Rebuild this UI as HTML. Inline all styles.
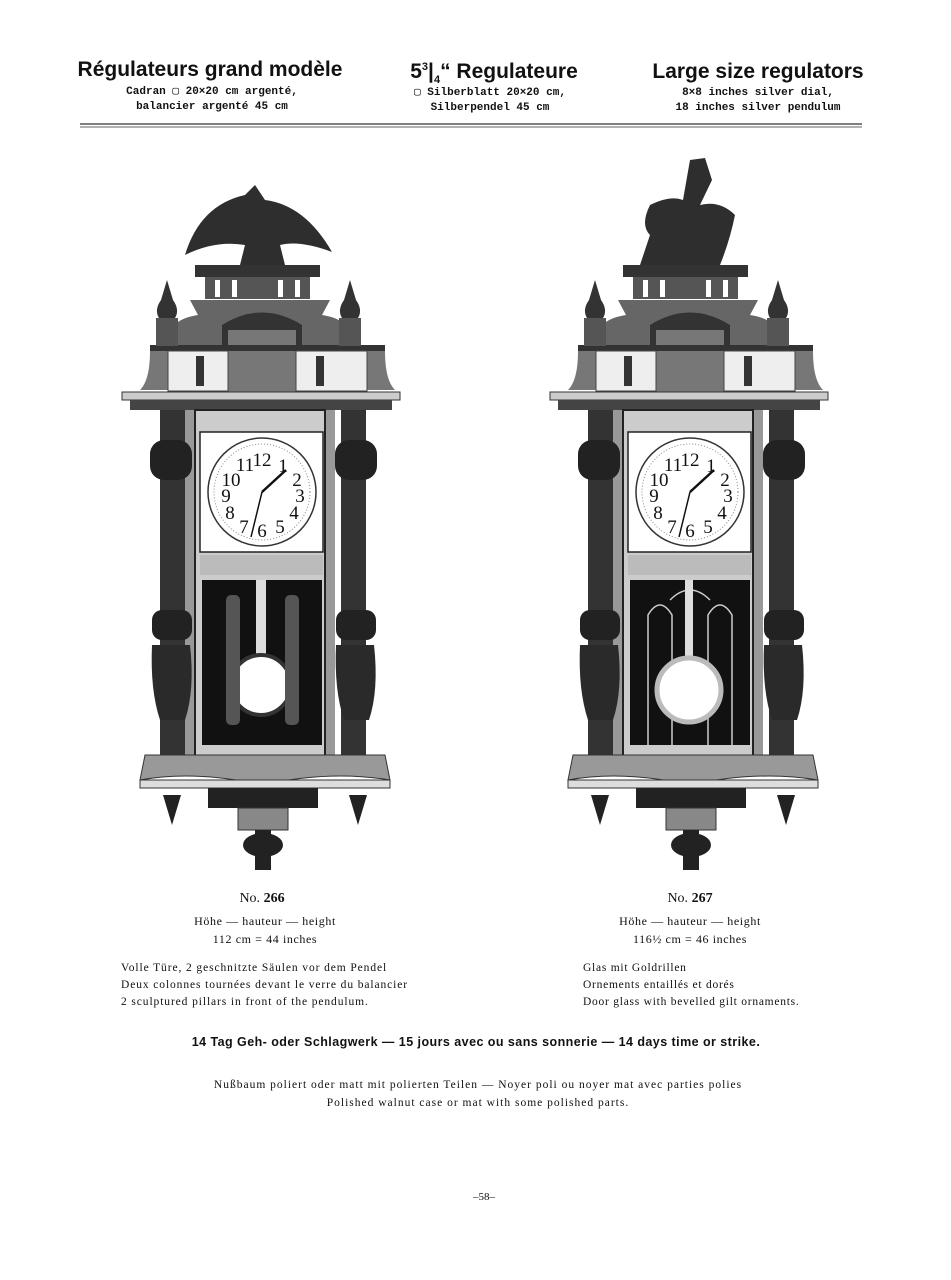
<!DOCTYPE html>
<html><head><meta charset="utf-8"><style>
body{margin:0;background:#fff;}
#p{position:relative;width:951px;height:1280px;overflow:hidden;background:#fff;color:#111;}
.t{position:absolute;white-space:nowrap;transform:translateX(-50%);text-align:center;}
.h{font-family:"Liberation Sans",sans-serif;font-weight:bold;font-size:21px;}
.s{font-family:"Liberation Mono",monospace;font-weight:bold;font-size:11px;line-height:15px;}
.r{font-family:"Liberation Serif",serif;font-size:12px;line-height:18px;}
.l{position:absolute;font-family:"Liberation Serif",serif;font-size:11.5px;line-height:17px;white-space:nowrap;letter-spacing:0.9px;}
svg{position:absolute;left:0;top:0;}
</style></head><body><div id="p">
<div class="t h" style="left:210px;top:58px">Régulateurs grand modèle</div>
<div class="t s" style="left:212px;top:85px">Cadran ▢ 20×20 cm argenté,<br>balancier argenté 45 cm</div>
<div class="t h" style="left:494px;top:60px">5<sup style="font-size:11px">3</sup>|<sub style="font-size:11px">4</sub>“ Regulateure</div>
<div class="t s" style="left:490px;top:86px">▢ Silberblatt 20×20 cm,<br>Silberpendel 45 cm</div>
<div class="t h" style="left:758px;top:60px">Large size regulators</div>
<div class="t s" style="left:758px;top:86px">8×8 inches silver dial,<br>18 inches silver pendulum</div>

<svg width="951" height="1280">
<line x1="80" y1="124" x2="862" y2="124" stroke="#333" stroke-width="1.2"/>
<line x1="80" y1="127" x2="862" y2="127" stroke="#666" stroke-width="1"/>
<defs>
<g id="clk">
<rect x="195" y="265" width="125" height="12" fill="#333"/>
<rect x="205" y="277" width="105" height="22" fill="#555"/>
<g fill="#fff"><rect x="215" y="280" width="5" height="17"/><rect x="232" y="280" width="5" height="17"/><rect x="278" y="280" width="5" height="17"/><rect x="295" y="280" width="5" height="17"/></g>
<path d="M190 300 H330 L322 315 Q355 320 350 345 H170 Q165 320 198 315Z" fill="#666"/>
<path d="M222 345 V325 Q262 300 302 325 V345Z" fill="#333"/>
<rect x="228" y="330" width="68" height="62" fill="#777"/>
<rect x="150" y="345" width="235" height="6" fill="#333"/>
<path d="M150 351 H168 V390 H140 Q150 380 150 351Z" fill="#777"/>
<path d="M385 351 H367 V390 H395 Q385 380 385 351Z" fill="#777"/>
<rect x="168" y="351" width="60" height="40" fill="#eee" stroke="#444"/>
<rect x="296" y="351" width="71" height="40" fill="#eee" stroke="#444"/>
<rect x="196" y="356" width="8" height="30" fill="#333"/><rect x="316" y="356" width="8" height="30" fill="#333"/>
<path d="M167 280 L173 300 Q180 310 175 318 H159 Q154 310 161 300Z" fill="#333"/>
<rect x="156" y="318" width="22" height="28" fill="#555"/>
<path d="M350 280 L356 300 Q363 310 358 318 H342 Q337 310 344 300Z" fill="#333"/>
<rect x="339" y="318" width="22" height="28" fill="#555"/>
<rect x="122" y="392" width="278" height="8" fill="#ccc" stroke="#333"/>
<rect x="130" y="400" width="262" height="10" fill="#444"/>
<rect x="185" y="410" width="150" height="350" fill="#999"/>
<rect x="195" y="410" width="130" height="350" fill="#ccc" stroke="#222" stroke-width="2"/>
<rect x="200" y="432" width="123" height="120" fill="#fff" stroke="#222" stroke-width="1.5"/>
<circle cx="262" cy="492" r="54" fill="#fff" stroke="#333" stroke-width="1.5"/>
<circle cx="262" cy="492" r="48" fill="none" stroke="#888" stroke-dasharray="1 2"/>
<g font-family="Liberation Serif,serif" font-size="19" text-anchor="middle" fill="#111">
<text x="262" y="466">12</text><text x="283" y="472">1</text><text x="297" y="486">2</text><text x="300" y="502">3</text><text x="294" y="519">4</text><text x="280" y="533">5</text><text x="262" y="537">6</text><text x="244" y="533">7</text><text x="230" y="519">8</text><text x="226" y="502">9</text><text x="231" y="486">10</text><text x="245" y="471">11</text></g>
<line x1="262" y1="492" x2="286" y2="470" stroke="#111" stroke-width="2.5"/>
<line x1="262" y1="492" x2="251" y2="537" stroke="#111" stroke-width="1.5"/>
<rect x="200" y="555" width="123" height="20" fill="#bbb"/>
<path d="M202 580 H322 V745 H202Z" fill="#111"/>
<rect x="256" y="580" width="10" height="95" fill="#ddd"/>
<circle cx="261" cy="685" r="30" fill="#fff" stroke="#333" stroke-width="4"/>
<rect x="226" y="595" width="14" height="130" rx="5" fill="#555"/>
<rect x="285" y="595" width="14" height="130" rx="5" fill="#555"/>
<rect x="160" y="410" width="25" height="350" fill="#333"/>
<rect x="150" y="440" width="42" height="40" rx="14" fill="#222"/>
<rect x="152" y="610" width="40" height="30" rx="10" fill="#222"/>
<path d="M152 645 Q150 690 160 720 H185 Q195 690 190 645Z" fill="#2a2a2a"/>
<rect x="341" y="410" width="25" height="350" fill="#333"/>
<rect x="335" y="440" width="42" height="40" rx="14" fill="#222"/>
<rect x="336" y="610" width="40" height="30" rx="10" fill="#222"/>
<path d="M336 645 Q334 690 344 720 H369 Q379 690 374 645Z" fill="#2a2a2a"/>
<path d="M145 755 H385 L390 780 Q330 770 262 785 Q195 770 140 780Z" fill="#999" stroke="#333"/>
<rect x="140" y="780" width="250" height="8" fill="#ddd" stroke="#333"/>
<rect x="208" y="788" width="110" height="20" fill="#222"/>
<path d="M163 795 h18 l-9 30z" fill="#222"/>
<path d="M349 795 h18 l-9 30z" fill="#222"/>
<rect x="238" y="808" width="50" height="22" fill="#888" stroke="#333"/>
<ellipse cx="263" cy="845" rx="20" ry="12" fill="#222"/>
<rect x="255" y="830" width="16" height="40" fill="#222"/>
</g>
</defs>
<use href="#clk"/>
<use href="#clk" transform="translate(428,0)"/>
<path d="M185 255 Q200 205 245 195 L255 185 L265 200 Q305 205 332 252 Q300 240 280 245 L285 265 H240 L245 245 Q215 240 185 255Z" fill="#2e2e2e"/>
<path d="M640 265 L650 235 Q640 225 650 205 Q670 195 683 200 L690 160 L705 158 L712 180 L700 205 Q720 200 735 215 Q730 240 720 265Z" fill="#2e2e2e"/>
<rect x="630" y="580" width="120" height="165" fill="#111"/>
<path d="M648 745 V615 Q660 595 672 615 V745 M708 745 V615 Q720 595 732 615 V745 M670 600 Q690 580 710 600" stroke="#ccc" fill="none" stroke-width="1.5"/>
<rect x="685" y="580" width="8" height="95" fill="#ddd"/>
<circle cx="689" cy="690" r="32" fill="#fff" stroke="#bbb" stroke-width="5"/>
</svg>

<div class="t r" style="left:262px;top:890px;font-size:14px">No. <b>266</b></div>
<div class="t r" style="left:265px;top:912px;letter-spacing:0.6px">Höhe — hauteur — height<br>112 cm = 44 inches</div>
<div class="t r" style="left:690px;top:890px;font-size:14px">No. <b>267</b></div>
<div class="t r" style="left:690px;top:912px;letter-spacing:0.6px">Höhe — hauteur — height<br>116½ cm = 46 inches</div>
<div class="l" style="left:121px;top:960px">Volle Türe, 2 geschnitzte Säulen vor dem Pendel<br>Deux colonnes tournées devant le verre du balancier<br>2 sculptured pillars in front of the pendulum.</div>
<div class="l" style="left:583px;top:960px;letter-spacing:0.75px">Glas mit Goldrillen<br>Ornements entaillés et dorés<br>Door glass with bevelled gilt ornaments.</div>
<div class="t" style="left:476px;top:1035px;font-family:'Liberation Sans',sans-serif;font-weight:bold;font-size:12.5px;letter-spacing:0.45px">14 Tag Geh- oder Schlagwerk — 15 jours avec ou sans sonnerie — 14 days time or strike.</div>
<div class="t r" style="left:478px;top:1076px;font-size:11.5px;letter-spacing:1px">Nußbaum poliert oder matt mit polierten Teilen — Noyer poli ou noyer mat avec parties polies<br>Polished walnut case or mat with some polished parts.</div>
<div class="t r" style="left:484px;top:1188px;font-size:11px">–58–</div>
</div></body></html>
